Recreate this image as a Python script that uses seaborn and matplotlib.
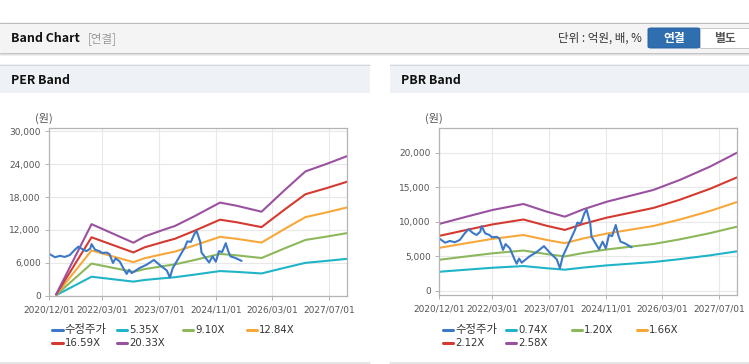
import numpy as np
import pandas as pd
import matplotlib
matplotlib.use("Agg")
import matplotlib.pyplot as plt
from matplotlib.patches import Rectangle, FancyBboxPatch
from matplotlib.lines import Line2D
import seaborn as sns

# ---------------- data ----------------
price_dates = ["2020-12-01", "2021-01-22", "2021-03-04", "2021-04-15", "2021-05-28", "2021-07-10",
               "2021-08-10", "2021-09-22", "2021-10-20", "2021-11-20", "2021-12-01", "2022-01-01",
               "2022-02-06", "2022-03-01", "2022-04-10", "2022-05-03", "2022-06-03", "2022-06-25",
               "2022-08-01", "2022-09-07", "2022-09-28", "2022-10-19", "2022-11-10", "2023-01-15",
               "2023-03-15", "2023-05-20", "2023-07-10", "2023-09-07", "2023-10-04", "2023-10-28",
               "2023-12-13", "2024-02-10", "2024-03-01", "2024-04-01", "2024-05-01", "2024-05-20",
               "2024-06-20", "2024-07-01", "2024-08-01", "2024-09-04", "2024-10-04", "2024-11-01",
               "2024-11-28", "2024-12-25", "2025-01-25", "2025-02-15", "2025-03-07", "2025-04-13",
               "2025-06-10"]
price_values = [7640, 7000, 7250, 7060, 7390, 8360,
                8940, 8360, 8120, 8600, 9400, 8360,
                8120, 7780, 7850, 7600, 5950, 6800,
                6180, 4700, 3950, 4700, 4100, 5000,
                5600, 6500, 5550, 4590, 3300, 5000,
                6670, 8840, 9900, 9810, 11260, 11800,
                9810, 7870, 7000, 6040, 7150, 6180,
                8120, 7950, 9570, 8120, 7150, 6910,
                6330]

per_dates = ["2021-02-01", "2021-12-01", "2022-11-25", "2023-03-01", "2023-08-20", "2023-11-15",
             "2024-05-01", "2024-09-01", "2024-12-07", "2025-05-01", "2025-11-28", "2026-06-15",
             "2026-12-10", "2027-06-01", "2027-12-01"]
per_535 = [64, 3435, 2541, 2841, 3183, 3344, 3815, 4184, 4473, 4317, 4034, 5077, 5976, 6318, 6709]
per_910 = [109, 5842, 4323, 4832, 5415, 5688, 6488, 7116, 7608, 7344, 6861, 8636, 10165, 10747, 11411]
per_1284 = [154, 8243, 6099, 6818, 7640, 8025, 9155, 10041, 10734, 10362, 9681, 12185, 14342, 15164, 16101]
per_1659 = [199, 10651, 7880, 8809, 9871, 10369, 11829, 12973, 13869, 13388, 12509, 15744, 18531, 19593, 20804]
per_2033 = [244, 13052, 9657, 10795, 12096, 12706, 14495, 15898, 16996, 16406, 15329, 19293, 22709, 24010, 25494]
per_labels = ["5.35X", "9.10X", "12.84X", "16.59X", "20.33X"]

pbr_dates = ["2020-12-01", "2021-07-25", "2022-03-04", "2022-11-25", "2023-06-13", "2023-11-15",
             "2024-04-22", "2024-11-10", "2025-06-25", "2025-12-13", "2026-07-28", "2027-04-13",
             "2027-12-01"]
pbr_074 = [2785, 3089, 3367, 3617, 3298, 3089, 3396, 3712, 3989, 4199, 4615, 5168, 5748]
pbr_120 = [4517, 5009, 5460, 5866, 5348, 5009, 5507, 6019, 6469, 6809, 7483, 8381, 9320]
pbr_166 = [6248, 6929, 7553, 8114, 7399, 6929, 7618, 8327, 8949, 9419, 10352, 11593, 12893]
pbr_212 = [7980, 8849, 9646, 10363, 9449, 8849, 9729, 10634, 11429, 12029, 13220, 14806, 16466]
pbr_258 = [9711, 10769, 11739, 12611, 11499, 10769, 11840, 12941, 13909, 14639, 16089, 18019, 20039]
pbr_labels = ["0.74X", "1.20X", "1.66X", "2.12X", "2.58X"]

price_label = "수정주가"
tick_dates = ["2020-12-01", "2022-03-01", "2023-07-01", "2024-11-01", "2026-03-01", "2027-07-01"]
tick_labels = ["2020/12/01", "2022/03/01", "2023/07/01", "2024/11/01", "2026/03/01", "2027/07/01"]
per_yticks = [0, 6000, 12000, 18000, 24000, 30000]
pbr_yticks = [0, 5000, 10000, 15000, 20000]

# ---------------- style ----------------
sns.set_theme(style="white")
plt.rcParams['font.family'] = ['DejaVu Sans', 'Noto Sans CJK KR']
KR = ['Noto Sans CJK KR', 'DejaVu Sans']

band_colors = ['#1fb4c8', '#8cb85a', '#f6a83a', '#d43a30', '#9a52a0']
price_color = '#3b78c8'

W, H = 749, 364
fig = plt.figure(figsize=(W / 100, H / 100), dpi=100)
fig.patch.set_facecolor('white')


def fx(x):
    return x / W


def fy(y):
    return 1 - y / H


def rect(x0, y0, x1, y1, fc, ec='none', lw=0):
    fig.add_artist(Rectangle((fx(x0), fy(y1)), (x1 - x0) / W, (y1 - y0) / H,
                             transform=fig.transFigure, facecolor=fc, edgecolor=ec, linewidth=lw))


def hline(x0, x1, y, color, lw=1.0):
    fig.add_artist(Line2D([fx(x0), fx(x1)], [fy(y), fy(y)], transform=fig.transFigure,
                          color=color, linewidth=lw * 0.72))


# header bar
rect(0, 22, 749, 53, '#f4f4f4')
hline(0, 749, 22.5, '#bcbcbc')
hline(0, 749, 53, '#c4c4c4')
hline(0, 749, 54, '#dedede')
hline(0, 749, 55, '#efefef')
fig.text(fx(11), fy(38.5), "Band Chart", family=KR, fontsize=8.9, fontweight='bold',
         color='#111111', va='center', ha='left')
fig.text(fx(88), fy(38.5), "[연결]", family=KR, fontsize=8.3, color='#999999', va='center', ha='left')
fig.text(fx(642), fy(38.5), "단위 : 억원, 배, %", family=KR, fontsize=8.3, color='#333333',
         va='center', ha='right')
fig.add_artist(FancyBboxPatch((fx(648), fy(48)), 52 / W, 20 / H, boxstyle="round,pad=0,rounding_size=0.004",
                              transform=fig.transFigure, facecolor='#2f6fb0', edgecolor='#2a62a0', linewidth=0.7))
rect(700, 28, 749, 48, 'white', ec='#c8c8c8', lw=0.7)
fig.text(fx(674), fy(38.5), "연결", family=KR, fontsize=8.5, fontweight='bold', color='white',
         va='center', ha='center')
fig.text(fx(724.5), fy(38.5), "별도", family=KR, fontsize=8.5, fontweight='bold', color='#555555',
         va='center', ha='center')

# panel headers
for (x0, x1, title) in [(0, 370, "PER Band"), (390, 749, "PBR Band")]:
    rect(x0, 64, x1, 93, '#eef1f6')
    hline(x0, x1, 64.5, '#d6d6d6')
    hline(x0, x1, 363, '#dcdcdc', lw=1.5)
    fig.text(fx(x0 + 11), fy(80), title, family=KR, fontsize=8.9, fontweight='bold',
             color='#111111', va='center', ha='left')


def make_axes(x0, x1, y0, y1):
    return fig.add_axes([fx(x0), fy(y1), (x1 - x0) / W, (y1 - y0) / H])


def draw_chart(ax, band_dates, bands, labels, ylim, yticks):
    frames = []
    for lab, vals in zip(labels, bands):
        frames.append(pd.DataFrame({'date': pd.to_datetime(band_dates), 'value': vals, 'series': lab}))
    frames.append(pd.DataFrame({'date': pd.to_datetime(price_dates), 'value': price_values,
                                'series': price_label}))
    df = pd.concat(frames, ignore_index=True)
    palette = dict(zip(labels, band_colors))
    palette[price_label] = price_color
    sns.lineplot(data=df, x='date', y='value', hue='series', hue_order=labels + [price_label],
                 palette=palette, estimator=None, sort=False, linewidth=1.5, legend=False, ax=ax)
    ax.set_xlim(pd.Timestamp("2020-12-01"), pd.Timestamp("2027-12-01"))
    ax.set_ylim(*ylim)
    ax.set_xticks(pd.to_datetime(tick_dates))
    ax.set_xticklabels(tick_labels)
    ax.set_yticks(yticks)
    ax.set_yticklabels([f"{v:,}" for v in yticks])
    ax.set_xlabel("")
    ax.set_ylabel("")
    ax.grid(True, color='#e8e8e8', linewidth=0.8)
    ax.set_axisbelow(True)
    for s in ax.spines.values():
        s.set_color('#b4b4b4')
        s.set_linewidth(0.9)
    ax.tick_params(axis='both', which='major', labelsize=6.5, colors='#b4b4b4', labelcolor='#555555',
                   length=3, width=0.7, pad=3)
    ax.tick_params(axis='x', bottom=True, pad=4)
    ax.tick_params(axis='y', left=True)


ax1 = make_axes(49, 347, 128, 296)
draw_chart(ax1, per_dates, [per_535, per_910, per_1284, per_1659, per_2033], per_labels,
           (-90, 30640), per_yticks)
ax2 = make_axes(439, 737, 128, 295)
draw_chart(ax2, pbr_dates, [pbr_074, pbr_120, pbr_166, pbr_212, pbr_258], pbr_labels,
           (-580, 23620), pbr_yticks)

fig.text(fx(44), fy(118), "(원)", family=KR, fontsize=8, color='#555555', va='center', ha='center')
fig.text(fx(434), fy(118), "(원)", family=KR, fontsize=8, color='#555555', va='center', ha='center')

# legends
def legend(xs, labels):
    items = [(price_label, price_color)] + list(zip(labels, band_colors))
    pos = [(xs[0], 330), (xs[1], 330), (xs[2], 330), (xs[3], 330), (xs[0], 343), (xs[1], 343)]
    for (lab, col), (x, y) in zip(items, pos):
        fig.add_artist(Line2D([fx(x), fx(x + 10)], [fy(y), fy(y)], transform=fig.transFigure,
                              color=col, linewidth=2.2))
        size = 8.2 if lab == price_label else 7.3
        fig.text(fx(x + 12), fy(y), lab, fontsize=size, color='#333333', va='center', ha='left')


legend([52.5, 117, 183, 247], per_labels)
legend([443, 506, 572, 637], pbr_labels)

fig.savefig("out.png", dpi=100)
